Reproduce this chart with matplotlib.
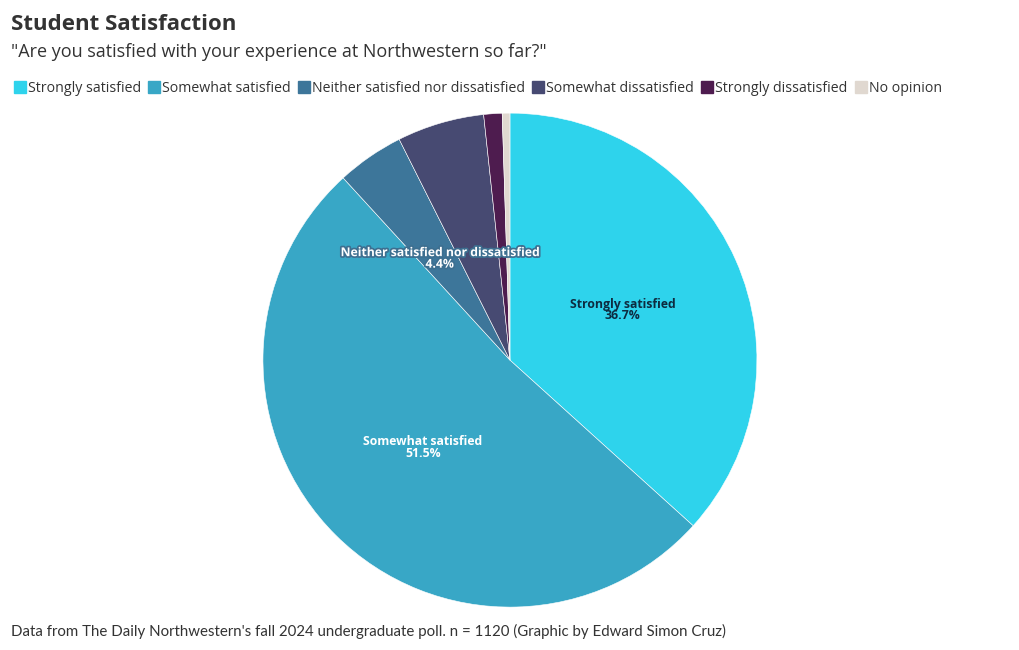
import numpy as np
import matplotlib.pyplot as plt
import matplotlib.patheffects as pe
from matplotlib.lines import Line2D

plt.rcParams['font.family'] = ['Open Sans', 'DejaVu Sans']

# data (n = 1120)
categories = ["Strongly satisfied", "Somewhat satisfied", "Neither satisfied nor dissatisfied",
              "Somewhat dissatisfied", "Strongly dissatisfied", "No opinion"]
shares = [36.7, 51.5, 4.4, 5.7, 1.2, 0.5]
colors = ["#2ed3ec", "#38a7c6", "#3d769a", "#474a72", "#4e1c4f", "#e0d8d0"]
labeled = ["Strongly satisfied", "Somewhat satisfied", "Neither satisfied nor dissatisfied"]

fig = plt.figure(figsize=(10.2, 6.5), dpi=100)
ax = fig.add_axes([0.2578, 0.066, 0.4843, 0.76])

wedges, _ = ax.pie(shares, colors=colors, startangle=90, counterclock=False,
                   radius=1, wedgeprops=dict(edgecolor="white", linewidth=0.4))
ax.set_xlim(-1, 1)
ax.set_ylim(-1, 1)
ax.set_aspect("equal")
ax.axis("off")

# slice labels at half radius
for w, name, val in zip(wedges, categories, shares):
    if name not in labeled:
        continue
    mid = np.deg2rad((w.theta1 + w.theta2) / 2)
    x, y = 0.5 * np.cos(mid), 0.5 * np.sin(mid)
    col = "#0d2c40" if name == "Strongly satisfied" else "white"
    t = ax.text(x, y, f"{name}\n{val}%", ha="center", va="center", fontsize=8.8,
                fontweight="bold", color=col, linespacing=0.85)
    if name == "Neither satisfied nor dissatisfied":
        t.set_path_effects([pe.withStroke(linewidth=2.5, foreground="#3d6f90")])

fig.text(0.011, 0.963, "Student Satisfaction", fontsize=16, fontweight="bold",
         color="#333333", va="center")
fig.text(0.011, 0.920, "\"Are you satisfied with your experience at Northwestern so far?\"",
         fontsize=13, color="#333333", va="center")

handles = [Line2D([], [], marker="s", linestyle="none", markersize=9,
                  markerfacecolor=c, markeredgecolor=c) for c in colors]
fig.legend(handles, categories, loc="center left", bbox_to_anchor=(0.0, 0.864),
           ncol=6, frameon=False, fontsize=10.2, handletextpad=0.05, columnspacing=0.45,
           handlelength=1.0, labelcolor="#333333")

fig.text(0.011, 0.029, "Data from The Daily Northwestern's fall 2024 undergraduate poll. n = 1120 "
         "(Graphic by Edward Simon Cruz)", fontsize=10.8, color="#333333", va="center",
         family=["Lato", "DejaVu Sans"])

fig.savefig("out.png", dpi=100, facecolor="white")
